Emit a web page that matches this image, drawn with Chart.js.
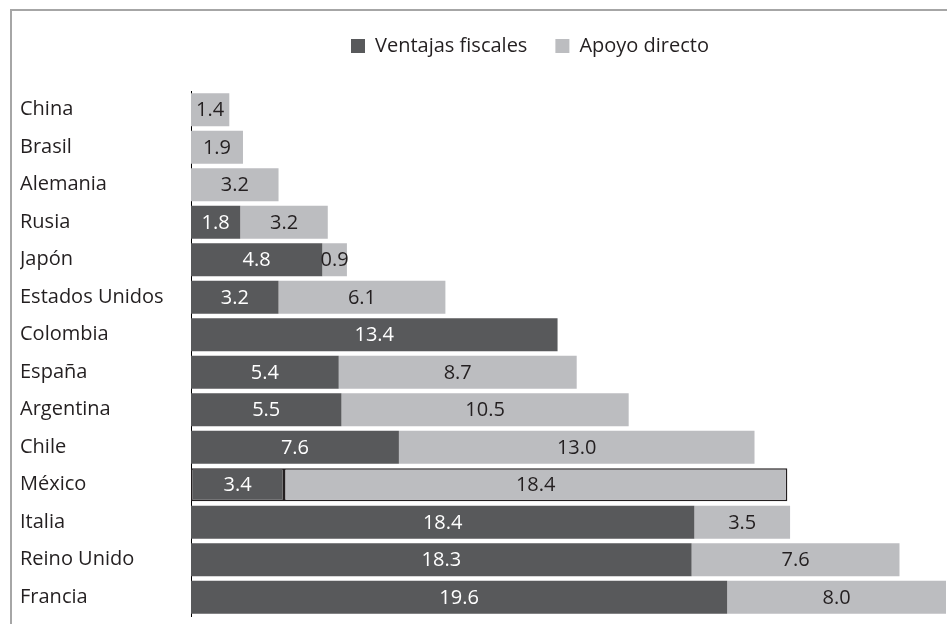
<!DOCTYPE html>
<html>
<head>
<meta charset="utf-8">
<script src="https://cdn.jsdelivr.net/npm/chart.js@4/dist/chart.umd.min.js"></script>
<style>
  html, body { margin: 0; padding: 0; background: #fff; }
  #wrap { width: 947px; height: 624px; position: relative; }
</style>
</head>
<body>
<div id="wrap"><canvas id="incentivos"></canvas></div>
<script>
const categories = ["China", "Brasil", "Alemania", "Rusia", "Japón", "Estados Unidos", "Colombia",
  "España", "Argentina", "Chile", "México", "Italia", "Reino Unido", "Francia"];
const ventajasFiscales = [null, null, null, 1.8, 4.8, 3.2, 13.4, 5.4, 5.5, 7.6, 3.4, 18.4, 18.3, 19.6];
const apoyoDirecto = [1.4, 1.9, 3.2, 3.2, 0.9, 6.1, null, 8.7, 10.5, 13.0, 18.4, 3.5, 7.6, 8.0];
const seriesNames = ["Ventajas fiscales", "Apoyo directo"];

const DARK = "#58595b";
const LIGHT = "#bcbdc0";
const INK = "#231f20";
const FONT = "'Open Sans', sans-serif";

// México is the one bar drawn with an outline
const outlined = categories.indexOf("México");
const outlineWidth = (ctx) => (ctx.dataIndex === outlined ? 1.5 : 0);

// grey frame along the top and left edges
const frame = {
  id: "frame",
  beforeDraw(chart) {
    const c = chart.ctx;
    c.save();
    c.fillStyle = "#fff";
    c.fillRect(0, 0, chart.width, chart.height);
    c.strokeStyle = "#a6a6a6";
    c.lineWidth = 2;
    c.beginPath();
    c.moveTo(11, chart.height);
    c.lineTo(11, 10);
    c.lineTo(chart.width, 10);
    c.stroke();
    c.restore();
  }
};

// extra room under the legend, and nudge it left of centre
const legendSpacer = {
  id: "legendSpacer",
  beforeInit(chart) {
    const fit = chart.legend.fit;
    chart.legend.fit = function () {
      fit.bind(chart.legend)();
      this.height += 25;
    };
  },
  afterLayout(chart) {
    const lg = chart.legend;
    const dx = 530 - (lg.left + lg.right) / 2;
    lg.left += dx;
    lg.right += dx;
  }
};

// value labels in the middle of each segment
const barValues = {
  id: "barValues",
  afterDatasetsDraw(chart) {
    const c = chart.ctx;
    c.save();
    c.font = "20px " + FONT;
    c.textAlign = "center";
    c.textBaseline = "middle";
    chart.data.datasets.forEach((ds, di) => {
      const meta = chart.getDatasetMeta(di);
      c.fillStyle = di === 0 ? "#ffffff" : INK;
      meta.data.forEach((bar, i) => {
        const v = ds.data[i];
        if (v === null || v === undefined) return;
        const p = bar.getProps(["x", "y", "base"], true);
        c.fillText(v.toFixed(1), (p.x + p.base) / 2, p.y + 1);
      });
    });
    c.restore();
  }
};

new Chart(document.getElementById("incentivos"), {
  type: "bar",
  data: {
    labels: categories,
    datasets: [
      {
        label: seriesNames[0],
        data: ventajasFiscales,
        backgroundColor: DARK,
        borderColor: INK,
        borderWidth: outlineWidth,
        borderSkipped: false,
        barPercentage: 0.88,
        categoryPercentage: 1
      },
      {
        label: seriesNames[1],
        data: apoyoDirecto,
        backgroundColor: LIGHT,
        borderColor: INK,
        borderWidth: outlineWidth,
        borderSkipped: false,
        barPercentage: 0.88,
        categoryPercentage: 1
      }
    ]
  },
  options: {
    indexAxis: "y",
    responsive: true,
    maintainAspectRatio: false,
    animation: false,
    layout: { padding: { top: 8, left: 20, right: 1, bottom: 8 } },
    plugins: {
      legend: {
        position: "top",
        labels: {
          boxWidth: 14,
          boxHeight: 14,
          padding: 28,
          color: INK,
          font: { family: FONT, size: 20 }
        }
      },
      tooltip: { enabled: false }
    },
    scales: {
      x: { stacked: true, display: false, min: 0, max: 27.6 },
      y: {
        stacked: true,
        grid: { display: false, drawTicks: false },
        border: { display: true, color: "#000", width: 1 },
        ticks: {
          crossAlign: "far",
          color: INK,
          font: { family: FONT, size: 20 }
        },
        afterFit(scale) {
          scale.width = 171;
          scale.paddingTop = 0;
          scale.paddingBottom = 0;
        }
      }
    }
  },
  plugins: [frame, legendSpacer, barValues]
});
</script>
</body>
</html>
